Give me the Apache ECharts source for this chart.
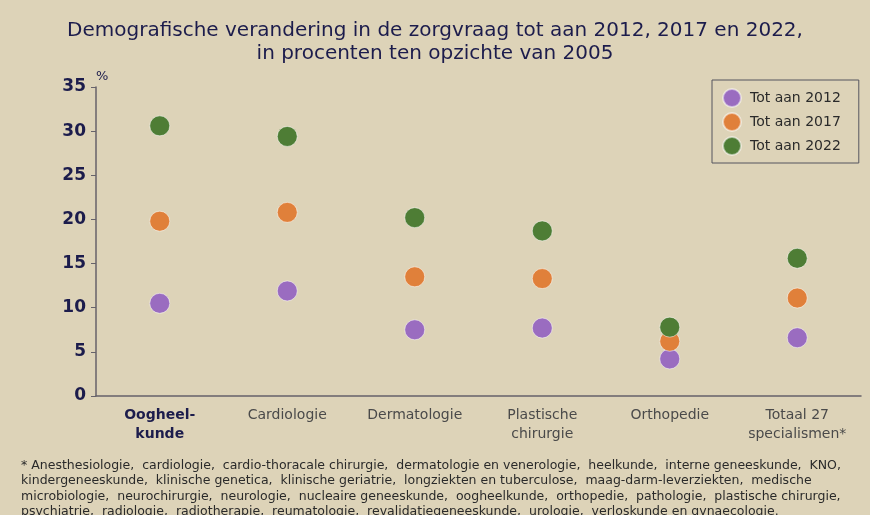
<!DOCTYPE html>
<html lang="nl">
<head>
    <meta charset="UTF-8">
    <title>Demografische verandering in de zorgvraag</title>
    <style>
        html, body { margin: 0; padding: 0; background: #ddd3b8; }
    </style>
</head>
<body>
<div id="chartBox" style="width: 870px;height: 515px;"></div>
<script type="text/javascript" src="https://cdn.jsdelivr.net/npm/echarts@6/dist/echarts.min.js"></script>
<script type="text/javascript">
    // categorieen en waarden (procent t.o.v. 2005)
    var categories = ['Oogheel-\nkunde', 'Cardiologie', 'Dermatologie', 'Plastische\nchirurgie', 'Orthopedie', 'Totaal 27\nspecialismen*'];
    var seriesNames = ['Tot aan 2012', 'Tot aan 2017', 'Tot aan 2022'];
    var tot2012 = [10.5, 11.9, 7.5, 7.7, 4.2, 6.6];
    var tot2017 = [19.8, 20.8, 13.5, 13.3, 6.2, 11.1];
    var tot2022 = [30.6, 29.4, 20.2, 18.7, 7.8, 15.6];
    var yTicks = [0, 5, 10, 15, 20, 25, 30, 35];

    var colors = ['#9a6cc0', '#e0803a', '#4e7d35'];
    var footnote = '* Anesthesiologie,  cardiologie,  cardio-thoracale chirurgie,  dermatologie en venerologie,  heelkunde,  interne geneeskunde,  KNO,\n' +
        'kindergeneeskunde,  klinische genetica,  klinische geriatrie,  longziekten en tuberculose,  maag-darm-leverziekten,  medische\n' +
        'microbiologie,  neurochirurgie,  neurologie,  nucleaire geneeskunde,  oogheelkunde,  orthopedie,  pathologie,  plastische chirurgie,\n' +
        'psychiatrie,  radiologie,  radiotherapie,  reumatologie,  revalidatiegeneeskunde,  urologie,  verloskunde en gynaecologie.';

    var myChart = echarts.init(document.getElementById('chartBox'));

    var dataSets = [tot2012, tot2017, tot2022];
    var series = [];
    for (var i = 0; i < seriesNames.length; i++) {
        series.push({
            name: seriesNames[i],
            type: 'scatter',
            symbol: 'circle',
            symbolSize: 20,
            itemStyle: {
                color: colors[i],
                opacity: 1,
                borderColor: 'rgba(255,255,255,0.5)',
                borderWidth: 1
            },
            data: dataSets[i]
        });
    }

    myChart.setOption({
        backgroundColor: '#ddd3b8',
        animation: false,
        title: [{
            text: 'Demografische verandering in de zorgvraag tot aan 2012, 2017 en 2022,\nin procenten ten opzichte van 2005',
            left: 'center',
            top: 14,
            textStyle: {
                fontFamily: 'DejaVu Sans',
                fontSize: 20,
                fontWeight: 'normal',
                color: '#1c1c4c',
                lineHeight: 23,
                align: 'center'
            }
        }, {
            text: footnote,
            left: 16,
            top: 453,
            textStyle: {
                fontFamily: 'DejaVu Sans',
                fontSize: 12.5,
                fontWeight: 'normal',
                color: '#2a2a2a',
                lineHeight: 15.3
            }
        }],
        legend: {
            data: seriesNames,
            orient: 'vertical',
            left: 712,
            top: 80,
            padding: [8, 18, 7, 10],
            itemGap: 4,
            itemWidth: 18,
            itemHeight: 18,
            icon: 'circle',
            borderColor: '#55555f',
            borderWidth: 1,
            textStyle: {
                fontFamily: 'DejaVu Sans',
                fontSize: 14,
                color: '#2a2a2a',
                padding: [0, 0, 0, 4]
            }
        },
        grid: {
            left: 96,
            right: 9,
            top: 87,
            bottom: 119
        },
        xAxis: {
            type: 'category',
            data: categories,
            boundaryGap: true,
            axisLine: { lineStyle: { color: '#66626a', width: 1.5 } },
            axisTick: { inside: true, length: 4, lineStyle: { color: '#66626a' } },
            axisLabel: {
                interval: 0,
                fontFamily: 'DejaVu Sans',
                fontSize: 14,
                color: '#4a4a4a',
                margin: 10,
                lineHeight: 19,
                formatter: function (v, idx) {
                    return idx === 0 ? '{first|' + v.replace('\n', '}\n{first|') + '}' : v;
                },
                rich: {
                    first: {
                        fontFamily: 'DejaVu Sans',
                        fontSize: 14,
                        color: '#1c1c4c',
                        fontWeight: 'bold',
                        lineHeight: 19
                    }
                }
            },
            splitLine: { show: false }
        },
        yAxis: {
            type: 'value',
            min: yTicks[0],
            max: yTicks[yTicks.length - 1],
            interval: 5,
            name: '%',
            nameGap: 4,
            nameTextStyle: {
                fontFamily: 'DejaVu Sans',
                fontSize: 13,
                color: '#1c1c4c',
                align: 'left'
            },
            axisLine: { show: true, lineStyle: { color: '#66626a', width: 1.5 } },
            axisTick: { show: true, length: 5, lineStyle: { color: '#66626a' } },
            axisLabel: {
                fontFamily: 'DejaVu Sans',
                fontSize: 17,
                fontWeight: 'bold',
                color: '#1c1c4c',
                margin: 10
            },
            splitLine: { show: false }
        },
        series: series
    });
</script>
</body>
</html>
